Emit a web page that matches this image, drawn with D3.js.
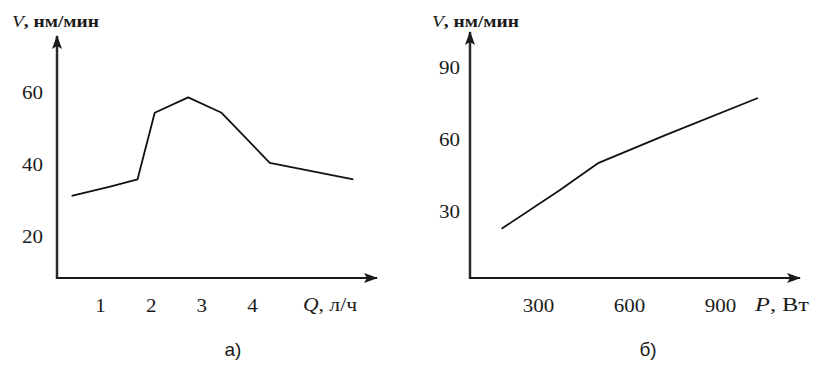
<!DOCTYPE html>
<html>
<head>
<meta charset="utf-8">
<script src="https://cdn.jsdelivr.net/npm/d3@7"></script>
<style>
  body { margin: 0; background: #fff; }
  svg text { fill: #1a1a1a; }
  .tick text { font-family: "Liberation Serif", serif; font-size: 18px; }
</style>
</head>
<body>
<svg id="fig" width="817" height="377"></svg>
<script>
// chart a) : V vs Q
var qValues = [0.44, 1.2, 1.74, 2.08, 2.74, 3.4, 4.35, 6.0];
var vByQ = [31.4, 34, 36, 54.5, 58.8, 54.5, 40.6, 36];
var qTicks = [1, 2, 3, 4];
var vTicksA = [20, 40, 60];

// chart b) : V vs P
var pValues = [180, 370, 500, 720, 1025];
var vByP = [23, 39, 50.5, 62, 77.5];
var pTicks = [300, 600, 900];
var vTicksB = [30, 60, 90];

var svg = d3.select("#fig");

var defs = svg.append("defs");
defs.append("marker")
  .attr("id", "arrow")
  .attr("viewBox", "0 0 14 10")
  .attr("refX", 13)
  .attr("refY", 5)
  .attr("markerWidth", 14)
  .attr("markerHeight", 10)
  .attr("markerUnits", "userSpaceOnUse")
  .attr("orient", "auto")
  .append("path")
  .attr("d", "M0,0 L14,5 L0,10 L3,5 Z")
  .attr("fill", "#1a1a1a");

function panel(opt) {
  var g = svg.append("g");
  var x = d3.scaleLinear().domain(opt.xDom).range(opt.xRange);
  var y = d3.scaleLinear().domain(opt.yDom).range(opt.yRange);

  // axes lines with arrows
  g.append("line")
    .attr("x1", opt.ox).attr("y1", opt.oy + 1)
    .attr("x2", opt.ox).attr("y2", opt.top)
    .attr("stroke", "#2a2a2a").attr("stroke-width", 2.5)
    .attr("marker-end", "url(#arrow)");
  g.append("line")
    .attr("x1", opt.ox - 1).attr("y1", opt.oy)
    .attr("x2", opt.right).attr("y2", opt.oy)
    .attr("stroke", "#1a1a1a").attr("stroke-width", 2)
    .attr("marker-end", "url(#arrow)");

  // tick labels only, no tick marks
  var ya = g.append("g")
    .attr("transform", "translate(" + opt.ox + ",0)")
    .call(d3.axisLeft(y).tickValues(opt.yTicks).tickFormat(d3.format("d"))
      .tickSize(0).tickPadding(opt.yPad));
  ya.select(".domain").remove();

  var xa = g.append("g")
    .attr("transform", "translate(0," + opt.oy + ")")
    .call(d3.axisBottom(x).tickValues(opt.xTicks).tickFormat(d3.format("d"))
      .tickSize(0).tickPadding(21));
  xa.select(".domain").remove();

  // the scan is a bit wider than the font, stretch the digits
  g.selectAll(".tick text")
    .attr("fill", "#1a1a1a")
    .attr("textLength", function(d) { return String(d).length * 10.5; })
    .attr("lengthAdjust", "spacingAndGlyphs");

  // curve
  var pts = opt.xs.map(function(d, i) { return [d, opt.ys[i]]; });
  g.append("path")
    .datum(pts)
    .attr("fill", "none")
    .attr("stroke", "#111")
    .attr("stroke-width", 1.8)
    .attr("stroke-linejoin", "round")
    .attr("d", d3.line().x(function(d) { return x(d[0]); }).y(function(d) { return y(d[1]); }));

  // y title
  var t = g.append("text")
    .attr("x", opt.yTitleX).attr("y", 27)
    .attr("font-family", "Liberation Serif, serif")
    .attr("font-size", 17)
    .attr("textLength", 87)
    .attr("lengthAdjust", "spacingAndGlyphs");
  t.append("tspan").attr("font-style", "italic").text("V");
  t.append("tspan").attr("font-weight", "bold").text(", нм/мин");

  // x title
  var xt = g.append("text")
    .attr("x", opt.xTitleX).attr("y", opt.oy + 33)
    .attr("font-family", "Liberation Serif, serif")
    .attr("font-size", 18)
    .attr("textLength", 54)
    .attr("lengthAdjust", "spacingAndGlyphs");
  xt.append("tspan").attr("font-style", "italic").text(opt.xVar);
  xt.append("tspan").attr("font-style", "normal").text(opt.xUnit);

  // panel caption
  g.append("text")
    .attr("x", opt.capX).attr("y", 356)
    .attr("text-anchor", "middle")
    .attr("font-family", "Liberation Sans, sans-serif")
    .attr("font-size", 19)
    .text(opt.cap);
}

panel({
  xDom: [1, 4], xRange: [100, 252],
  yDom: [20, 60], yRange: [237, 93],
  ox: 57, oy: 278, top: 36, right: 377,
  yTicks: vTicksA, xTicks: qTicks, yPad: 14,
  xs: qValues, ys: vByQ,
  yTitleX: 12, xTitleX: 303, xVar: "Q", xUnit: ", л/ч",
  capX: 233, cap: "а)"
});

panel({
  xDom: [300, 900], xRange: [538, 720],
  yDom: [30, 90], yRange: [212, 68],
  ox: 470, oy: 278, top: 32, right: 800,
  yTicks: vTicksB, xTicks: pTicks, yPad: 10,
  xs: pValues, ys: vByP,
  yTitleX: 432, xTitleX: 755, xVar: "P", xUnit: ", Вт",
  capX: 648, cap: "б)"
});
</script>
</body>
</html>
